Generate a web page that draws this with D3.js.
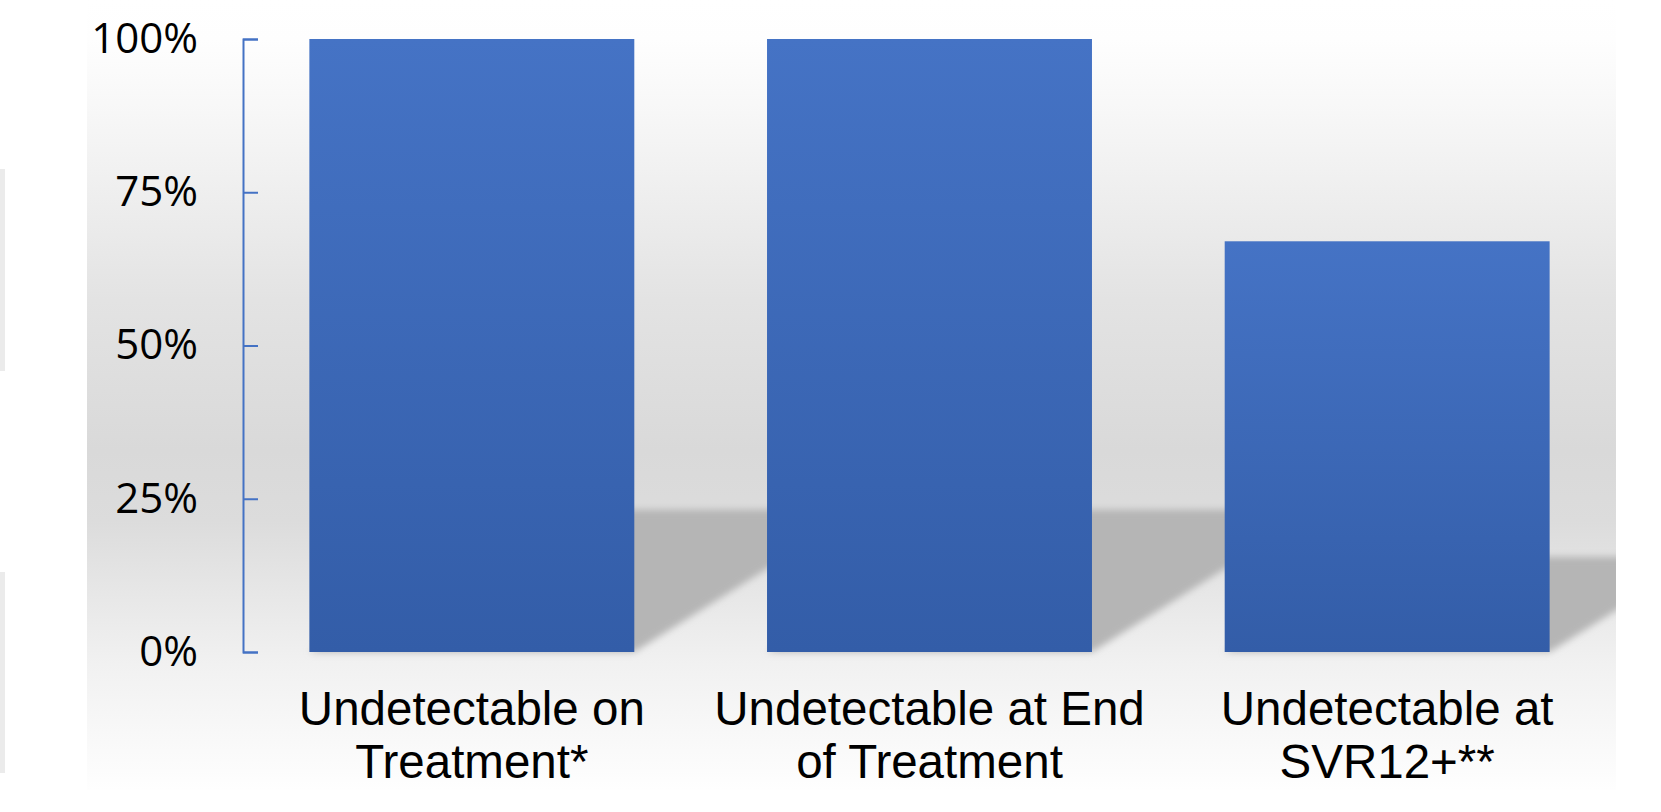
<!DOCTYPE html>
<html>
<head>
<meta charset="utf-8">
<script src="https://cdn.jsdelivr.net/npm/d3@7"></script>
<style>
  body { margin: 0; background: #fff; }
  svg { display: block; }
</style>
</head>
<body>
<svg id="main-svg" width="1661" height="812"></svg>
<script>
// chart data
var categories = [
    ['Undetectable on', 'Treatment*'],
    ['Undetectable at End', 'of Treatment'],
    ['Undetectable at', 'SVR12+**']
];
var values = [1.0, 1.0, 0.67];
var tickValues = [0, 0.25, 0.5, 0.75, 1];
var tickLabels = ['0%', '25%', '50%', '75%', '100%'];

var svg = d3.select('#main-svg');
var defs = svg.append('defs');

// panel area (slide background box)
var panel = { x: 87, y: 0, w: 1529, h: 790 };
var plot = { left: 243, right: 1616, top: 39, bottom: 652 };

var bg = defs.append('linearGradient')
    .attr('id', 'bg_grad')
    .attr('x1', 0).attr('y1', 0).attr('x2', 0).attr('y2', 1);
[[0, '#ffffff'], [0.05, '#fefefe'], [0.13, '#f8f8f8'], [0.25, '#eeeeee'],
 [0.38, '#e3e3e3'], [0.57, '#d9d9d9'], [0.66, '#dcdcdc'], [0.76, '#e8e8e8'],
 [0.84, '#f1f1f1'], [1, '#fefefe']].forEach(function(s) {
    bg.append('stop').attr('offset', s[0]).attr('stop-color', s[1]);
});

var barGrad = defs.append('linearGradient')
    .attr('id', 'bar_grad')
    .attr('x1', 0).attr('y1', 0).attr('x2', 0).attr('y2', 1);
barGrad.append('stop').attr('offset', 0).attr('stop-color', '#4573c5');
barGrad.append('stop').attr('offset', 1).attr('stop-color', '#335da8');

defs.append('filter')
    .attr('id', 'shadow_blur')
    .attr('x', '-20%').attr('y', '-20%').attr('width', '140%').attr('height', '140%')
    .append('feGaussianBlur')
    .attr('stdDeviation', 3.5);

defs.append('clipPath')
    .attr('id', 'panel_clip')
    .append('rect')
    .attr('x', panel.x).attr('y', panel.y)
    .attr('width', panel.w).attr('height', panel.h);

// small grey strips on the far left
[[169, 371], [572, 773]].forEach(function(s) {
    svg.append('rect')
        .attr('x', 0).attr('y', s[0])
        .attr('width', 5).attr('height', s[1] - s[0])
        .attr('fill', '#ebebeb');
});

svg.append('rect')
    .attr('x', panel.x).attr('y', panel.y)
    .attr('width', panel.w).attr('height', panel.h)
    .attr('fill', 'url(#bg_grad)');

var x = d3.scaleBand()
    .domain(d3.range(categories.length))
    .range([plot.left, plot.right])
    .paddingInner(0.29)
    .paddingOuter(0.145);

var y = d3.scaleLinear()
    .domain([0, 1])
    .range([plot.bottom, plot.top]);

// perspective shadows behind the bars
var shadowScale = 0.232;
var skew = 1.595;
svg.append('g')
    .attr('clip-path', 'url(#panel_clip)')
    .append('g')
    .attr('filter', 'url(#shadow_blur)')
    .selectAll('path')
    .data(values)
    .enter()
    .append('path')
    .attr('fill', '#b5b5b5')
    .attr('d', function(d, i) {
        var x0 = x(i), x1 = x(i) + x.bandwidth();
        var y0 = y(0);
        var hs = (y(0) - y(d)) * shadowScale;
        return 'M' + x0 + ',' + y0 + 'L' + x1 + ',' + y0 +
            'L' + (x1 + skew * hs) + ',' + (y0 - hs) +
            'L' + (x0 + skew * hs) + ',' + (y0 - hs) + 'Z';
    });

svg.append('g')
    .selectAll('rect')
    .data(values)
    .enter()
    .append('rect')
    .attr('x', function(d, i) { return x(i); })
    .attr('y', function(d) { return y(d); })
    .attr('width', x.bandwidth())
    .attr('height', function(d) { return y(0) - y(d); })
    .attr('fill', 'url(#bar_grad)');

// y axis, ticks pointing into the plot
var yAxis = d3.axisLeft(y)
    .tickValues(tickValues)
    .tickFormat(function(d, i) { return tickLabels[i]; })
    .tickSizeInner(-15)
    .tickSizeOuter(-15)
    .tickPadding(45);

var axisG = svg.append('g')
    .attr('transform', 'translate(' + plot.left + ',0)')
    .call(yAxis);
axisG.selectAll('path, line')
    .attr('stroke', '#4472c4')
    .attr('stroke-width', 2);
axisG.selectAll('text')
    .attr('fill', '#000')
    .style('font-family', '"Open Sans", "Liberation Sans", sans-serif')
    .style('font-size', '42px');

// category labels, two lines each
var labelG = svg.append('g')
    .style('font-family', '"Liberation Sans", Arial, sans-serif')
    .style('font-size', '47.5px')
    .attr('fill', '#000');
categories.forEach(function(lines, i) {
    var t = labelG.append('text')
        .attr('text-anchor', 'middle')
        .attr('x', x(i) + x.bandwidth() / 2)
        .attr('y', 725);
    lines.forEach(function(line, j) {
        t.append('tspan')
            .attr('x', x(i) + x.bandwidth() / 2)
            .attr('y', 725 + j * 53)
            .text(line);
    });
});
</script>
</body>
</html>
